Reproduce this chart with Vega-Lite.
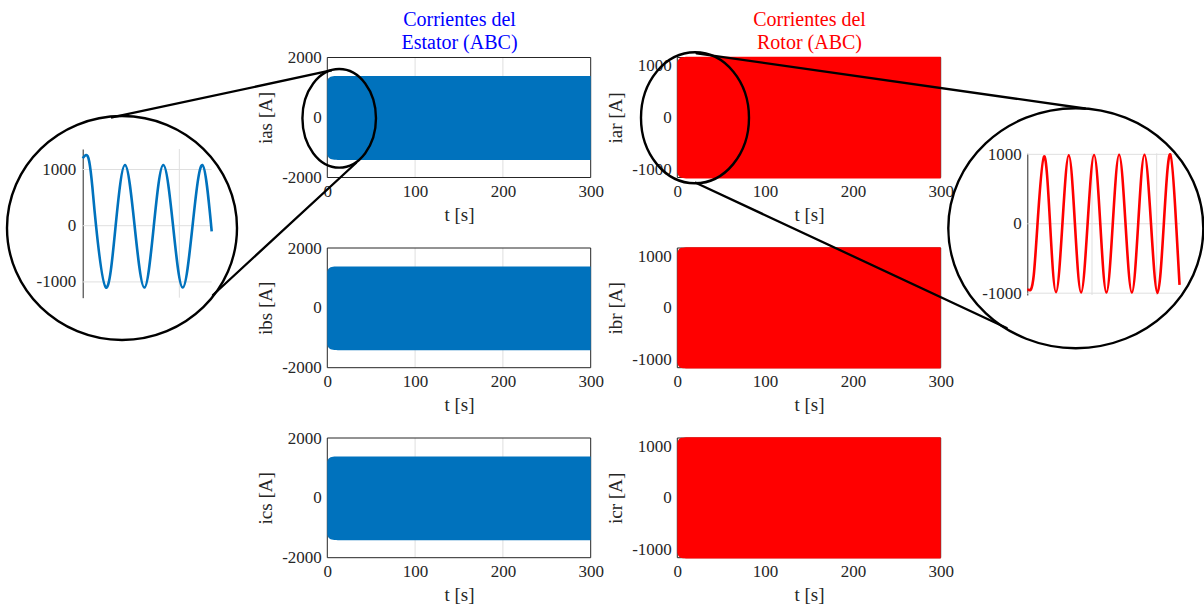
{
  "$schema": "https://vega.github.io/schema/vega-lite/v6.json",
  "width": 1204,
  "height": 610,
  "autosize": "none",
  "padding": 0,
  "background": "white",
  "config": {
    "view": {"stroke": null},
    "axis": {
      "labelFont": "Liberation Serif",
      "titleFont": "Liberation Serif",
      "labelFontSize": 17,
      "titleFontSize": 19,
      "labelColor": "#262626",
      "titleColor": "#262626",
      "titleFontWeight": "normal",
      "ticks": false,
      "domain": false,
      "grid": false,
      "labelFlush": false,
      "labelOverlap": false,
      "labelPadding": 6,
      "titlePadding": 6
    }
  },
  "datasets": {
    "stator": [
      {"t": 0, "lo": -1235, "hi": 1215},
      {"t": 1, "lo": -1310, "hi": 1290},
      {"t": 2.5, "lo": -1360, "hi": 1335},
      {"t": 5, "lo": -1395, "hi": 1365},
      {"t": 8, "lo": -1410, "hi": 1380},
      {"t": 12, "lo": -1415, "hi": 1385},
      {"t": 300, "lo": -1415, "hi": 1385}
    ],
    "rotor": [
      {"t": 0, "lo": -1070, "hi": 1065},
      {"t": 1, "lo": -1120, "hi": 1115},
      {"t": 2.5, "lo": -1150, "hi": 1148},
      {"t": 5, "lo": -1170, "hi": 1168},
      {"t": 8, "lo": -1178, "hi": 1176},
      {"t": 12, "lo": -1182, "hi": 1180},
      {"t": 300, "lo": -1182, "hi": 1180}
    ],
    "zoomS": [
      {"u": 0, "i": 1200},
      {"u": 0.035, "i": 1258},
      {"u": 0.068, "i": 1140},
      {"u": 0.1, "i": 690},
      {"u": 0.138, "i": 0},
      {"u": 0.241, "i": -1100},
      {"u": 0.341, "i": 0},
      {"u": 0.438, "i": 1080},
      {"u": 0.537, "i": 0},
      {"u": 0.638, "i": -1100},
      {"u": 0.736, "i": 0},
      {"u": 0.834, "i": 1080},
      {"u": 0.935, "i": 0},
      {"u": 1.035, "i": -1100},
      {"u": 1.137, "i": 0},
      {"u": 1.238, "i": 1080},
      {"u": 1.335, "i": -100}
    ],
    "zoomR": [
      {"u": 0, "i": -955},
      {"u": 0.03, "i": -952},
      {"u": 0.057, "i": -945},
      {"u": 0.1, "i": -740},
      {"u": 0.158, "i": 0},
      {"u": 0.259, "i": 970},
      {"u": 0.352, "i": 0},
      {"u": 0.444, "i": -985},
      {"u": 0.543, "i": 0},
      {"u": 0.641, "i": 985},
      {"u": 0.736, "i": 0},
      {"u": 0.831, "i": -990},
      {"u": 0.932, "i": 0},
      {"u": 1.032, "i": 990},
      {"u": 1.128, "i": 0},
      {"u": 1.223, "i": -990},
      {"u": 1.321, "i": 0},
      {"u": 1.419, "i": 995},
      {"u": 1.518, "i": 0},
      {"u": 1.616, "i": -990},
      {"u": 1.714, "i": 0},
      {"u": 1.811, "i": 995},
      {"u": 1.912, "i": 0},
      {"u": 2.012, "i": -995},
      {"u": 2.11, "i": 0},
      {"u": 2.209, "i": 1000},
      {"u": 2.3, "i": 0},
      {"u": 2.353, "i": -880}
    ],
    "links": [
      {"x1": 0.09302, "y1": 0.80738, "x2": 0.27492, "y2": 0.88443},
      {"x1": 0.17691, "y1": 0.51639, "x2": 0.29568, "y2": 0.73279},
      {"x1": 0.57865, "y1": 0.91262, "x2": 0.90116, "y2": 0.82213},
      {"x1": 0.57782, "y1": 0.70049, "x2": 0.83613, "y2": 0.46230}
    ]
  },
  "resolve": {"scale": {"x": "independent", "y": "independent"}},
  "layer": [
    {
      "resolve": {"axis": {"x": "independent", "y": "independent"}},
      "layer": [
        {
          "data": {"values": [{"t": 100}, {"t": 200}]},
          "mark": {"type": "rule", "color": "#dfdfdf", "strokeWidth": 1},
          "encoding": {
            "x": {"field": "t", "type": "quantitative", "axis": {"orient": "top", "offset": -57.5, "labels": false, "title": ["Corrientes del", "Estator (ABC)"], "titleColor": "#0000FF", "titleFontSize": 20, "titleLineHeight": 23, "titlePadding": 5}},
            "y": {"datum": -2000, "type": "quantitative", "axis": null},
            "y2": {"datum": 2000}
          }
        },
        {
          "data": {"values": [{}]},
          "mark": {"type": "rect", "fill": "transparent", "stroke": "#262626", "strokeWidth": 1},
          "encoding": {
            "x": {"datum": 0, "type": "quantitative", "axis": null},
            "x2": {"datum": 300},
            "y": {"datum": -2000, "type": "quantitative", "axis": null},
            "y2": {"datum": 2000}
          }
        },
        {
          "data": {"name": "stator"},
          "mark": {"type": "area", "color": "#0072BD", "interpolate": "monotone"},
          "encoding": {
            "x": {"field": "t", "type": "quantitative", "scale": {"domain": [0, 300], "range": [327.3, 590.7], "nice": false, "zero": false}, "axis": {"orient": "bottom", "offset": -432.5, "values": [0, 100, 200, 300], "title": "t [s]"}},
            "y": {"field": "lo", "type": "quantitative", "scale": {"domain": [-2000, 2000], "range": [177.5, 57.5], "nice": false, "zero": false}, "axis": {"orient": "left", "offset": -327.3, "values": [-2000, 0, 2000], "labelExpr": "'' + datum.value", "title": "ias [A]"}},
            "y2": {"field": "hi"}
          }
        }
      ]
    },
    {
      "resolve": {"axis": {"x": "independent", "y": "independent"}},
      "layer": [
        {
          "data": {"values": [{"t": 100}, {"t": 200}]},
          "mark": {"type": "rule", "color": "#dfdfdf", "strokeWidth": 1},
          "encoding": {
            "x": {"field": "t", "type": "quantitative", "axis": null},
            "y": {"datum": -2000, "type": "quantitative", "axis": null},
            "y2": {"datum": 2000}
          }
        },
        {
          "data": {"values": [{}]},
          "mark": {"type": "rect", "fill": "transparent", "stroke": "#262626", "strokeWidth": 1},
          "encoding": {
            "x": {"datum": 0, "type": "quantitative", "axis": null},
            "x2": {"datum": 300},
            "y": {"datum": -2000, "type": "quantitative", "axis": null},
            "y2": {"datum": 2000}
          }
        },
        {
          "data": {"name": "stator"},
          "mark": {"type": "area", "color": "#0072BD", "interpolate": "monotone"},
          "encoding": {
            "x": {"field": "t", "type": "quantitative", "scale": {"domain": [0, 300], "range": [327.3, 590.7], "nice": false, "zero": false}, "axis": {"orient": "bottom", "offset": -242.3, "values": [0, 100, 200, 300], "title": "t [s]"}},
            "y": {"field": "lo", "type": "quantitative", "scale": {"domain": [-2000, 2000], "range": [367.7, 248], "nice": false, "zero": false}, "axis": {"orient": "left", "offset": -327.3, "values": [-2000, 0, 2000], "labelExpr": "'' + datum.value", "title": "ibs [A]"}},
            "y2": {"field": "hi"}
          }
        }
      ]
    },
    {
      "resolve": {"axis": {"x": "independent", "y": "independent"}},
      "layer": [
        {
          "data": {"values": [{"t": 100}, {"t": 200}]},
          "mark": {"type": "rule", "color": "#dfdfdf", "strokeWidth": 1},
          "encoding": {
            "x": {"field": "t", "type": "quantitative", "axis": null},
            "y": {"datum": -2000, "type": "quantitative", "axis": null},
            "y2": {"datum": 2000}
          }
        },
        {
          "data": {"values": [{}]},
          "mark": {"type": "rect", "fill": "transparent", "stroke": "#262626", "strokeWidth": 1},
          "encoding": {
            "x": {"datum": 0, "type": "quantitative", "axis": null},
            "x2": {"datum": 300},
            "y": {"datum": -2000, "type": "quantitative", "axis": null},
            "y2": {"datum": 2000}
          }
        },
        {
          "data": {"name": "stator"},
          "mark": {"type": "area", "color": "#0072BD", "interpolate": "monotone"},
          "encoding": {
            "x": {"field": "t", "type": "quantitative", "scale": {"domain": [0, 300], "range": [327.3, 590.7], "nice": false, "zero": false}, "axis": {"orient": "bottom", "offset": -52.3, "values": [0, 100, 200, 300], "title": "t [s]"}},
            "y": {"field": "lo", "type": "quantitative", "scale": {"domain": [-2000, 2000], "range": [557.7, 438], "nice": false, "zero": false}, "axis": {"orient": "left", "offset": -327.3, "values": [-2000, 0, 2000], "labelExpr": "'' + datum.value", "title": "ics [A]"}},
            "y2": {"field": "hi"}
          }
        }
      ]
    },
    {
      "resolve": {"axis": {"x": "independent", "y": "independent"}},
      "layer": [
        {
          "data": {"values": [{"t": 100}, {"t": 200}]},
          "mark": {"type": "rule", "color": "#dfdfdf", "strokeWidth": 1},
          "encoding": {
            "x": {"field": "t", "type": "quantitative", "axis": {"orient": "top", "offset": -57.5, "labels": false, "title": ["Corrientes del", "Rotor (ABC)"], "titleColor": "#FF0000", "titleFontSize": 20, "titleLineHeight": 23, "titlePadding": 5}},
            "y": {"datum": -1165, "type": "quantitative", "axis": null},
            "y2": {"datum": 1165}
          }
        },
        {
          "data": {"values": [{}]},
          "mark": {"type": "rect", "fill": "transparent", "stroke": "#262626", "strokeWidth": 1},
          "encoding": {
            "x": {"datum": 0, "type": "quantitative", "axis": null},
            "x2": {"datum": 300},
            "y": {"datum": -1165, "type": "quantitative", "axis": null},
            "y2": {"datum": 1165}
          }
        },
        {
          "data": {"name": "rotor"},
          "mark": {"type": "area", "color": "#FF0000", "interpolate": "monotone"},
          "encoding": {
            "x": {"field": "t", "type": "quantitative", "scale": {"domain": [0, 300], "range": [677.3, 940.7], "nice": false, "zero": false}, "axis": {"orient": "bottom", "offset": -432.5, "values": [0, 100, 200, 300], "title": "t [s]"}},
            "y": {"field": "lo", "type": "quantitative", "scale": {"domain": [-1165, 1165], "range": [177.5, 57.5], "nice": false, "zero": false}, "axis": {"orient": "left", "offset": -677.3, "values": [-1000, 0, 1000], "labelExpr": "'' + datum.value", "title": "iar [A]"}},
            "y2": {"field": "hi"}
          }
        }
      ]
    },
    {
      "resolve": {"axis": {"x": "independent", "y": "independent"}},
      "layer": [
        {
          "data": {"values": [{}]},
          "mark": {"type": "rect", "fill": "transparent", "stroke": "#262626", "strokeWidth": 1},
          "encoding": {
            "x": {"datum": 0, "type": "quantitative", "axis": null},
            "x2": {"datum": 300},
            "y": {"datum": -1165, "type": "quantitative", "axis": null},
            "y2": {"datum": 1165}
          }
        },
        {
          "data": {"name": "rotor"},
          "mark": {"type": "area", "color": "#FF0000", "interpolate": "monotone"},
          "encoding": {
            "x": {"field": "t", "type": "quantitative", "scale": {"domain": [0, 300], "range": [677.3, 940.7], "nice": false, "zero": false}, "axis": {"orient": "bottom", "offset": -242.3, "values": [0, 100, 200, 300], "title": "t [s]"}},
            "y": {"field": "lo", "type": "quantitative", "scale": {"domain": [-1165, 1165], "range": [367.7, 248], "nice": false, "zero": false}, "axis": {"orient": "left", "offset": -677.3, "values": [-1000, 0, 1000], "labelExpr": "'' + datum.value", "title": "ibr [A]"}},
            "y2": {"field": "hi"}
          }
        }
      ]
    },
    {
      "resolve": {"axis": {"x": "independent", "y": "independent"}},
      "layer": [
        {
          "data": {"values": [{}]},
          "mark": {"type": "rect", "fill": "transparent", "stroke": "#262626", "strokeWidth": 1},
          "encoding": {
            "x": {"datum": 0, "type": "quantitative", "axis": null},
            "x2": {"datum": 300},
            "y": {"datum": -1165, "type": "quantitative", "axis": null},
            "y2": {"datum": 1165}
          }
        },
        {
          "data": {"name": "rotor"},
          "mark": {"type": "area", "color": "#FF0000", "interpolate": "monotone"},
          "encoding": {
            "x": {"field": "t", "type": "quantitative", "scale": {"domain": [0, 300], "range": [677.3, 940.7], "nice": false, "zero": false}, "axis": {"orient": "bottom", "offset": -52.3, "values": [0, 100, 200, 300], "title": "t [s]"}},
            "y": {"field": "lo", "type": "quantitative", "scale": {"domain": [-1165, 1165], "range": [557.7, 438], "nice": false, "zero": false}, "axis": {"orient": "left", "offset": -677.3, "values": [-1000, 0, 1000], "labelExpr": "'' + datum.value", "title": "icr [A]"}},
            "y2": {"field": "hi"}
          }
        }
      ]
    },
    {
      "resolve": {"axis": {"x": "independent", "y": "independent"}},
      "layer": [
        {
          "data": {"values": [{"v": -1000}, {"v": 0}, {"v": 1000}]},
          "mark": {"type": "rule", "color": "#dfdfdf", "strokeWidth": 1},
          "encoding": {
            "y": {"field": "v", "type": "quantitative", "axis": null},
            "x": {"datum": 0, "type": "quantitative", "axis": null},
            "x2": {"datum": 1.335}
          }
        },
        {
          "data": {"values": [{"u": 1}]},
          "mark": {"type": "rule", "color": "#dfdfdf", "strokeWidth": 1},
          "encoding": {
            "x": {"field": "u", "type": "quantitative", "axis": null},
            "y": {"datum": -1281, "type": "quantitative", "axis": null},
            "y2": {"datum": 1365}
          }
        },
        {
          "data": {"name": "zoomS"},
          "mark": {"type": "line", "color": "#0072BD", "strokeWidth": 2.6, "interpolate": "natural"},
          "encoding": {
            "x": {"field": "u", "type": "quantitative", "scale": {"domain": [0, 1.335], "range": [82.7, 211.7], "nice": false, "zero": false}, "axis": null},
            "y": {"field": "i", "type": "quantitative", "scale": {"domain": [-1281, 1365], "range": [297.7, 149], "nice": false, "zero": false}, "axis": {"orient": "left", "offset": -82.7, "domain": true, "domainColor": "#262626", "domainWidth": 1, "values": [-1000, 0, 1000], "labelExpr": "'' + datum.value", "title": null, "labelPadding": 7}}
          }
        }
      ]
    },
    {
      "resolve": {"axis": {"x": "independent", "y": "independent"}},
      "layer": [
        {
          "data": {"values": [{"v": -1000}, {"v": 0}, {"v": 1000}]},
          "mark": {"type": "rule", "color": "#dfdfdf", "strokeWidth": 1},
          "encoding": {
            "y": {"field": "v", "type": "quantitative", "axis": null},
            "x": {"datum": 0, "type": "quantitative", "axis": null},
            "x2": {"datum": 2.36}
          }
        },
        {
          "data": {"values": [{"u": 1}, {"u": 2}]},
          "mark": {"type": "rule", "color": "#dfdfdf", "strokeWidth": 1},
          "encoding": {
            "x": {"field": "u", "type": "quantitative", "axis": null},
            "y": {"datum": -1026, "type": "quantitative", "axis": null},
            "y2": {"datum": 1015}
          }
        },
        {
          "data": {"name": "zoomR"},
          "mark": {"type": "line", "color": "#FF0000", "strokeWidth": 2.6, "interpolate": "natural"},
          "encoding": {
            "x": {"field": "u", "type": "quantitative", "scale": {"domain": [0, 2.36], "range": [1027.3, 1180], "nice": false, "zero": false}, "axis": null},
            "y": {"field": "i", "type": "quantitative", "scale": {"domain": [-1026, 1015], "range": [295, 153.3], "nice": false, "zero": false}, "axis": {"orient": "left", "offset": -1027.3, "domain": true, "domainColor": "#262626", "domainWidth": 1, "values": [-1000, 0, 1000], "labelExpr": "'' + datum.value", "title": null, "labelPadding": 6}}
          }
        }
      ]
    },
    {
      "layer": [
        {
          "data": {"name": "links"},
          "mark": {"type": "rule", "color": "black", "strokeWidth": 2.3, "strokeCap": "round"},
          "encoding": {
            "x": {"field": "x1", "type": "quantitative", "scale": {"domain": [0, 1], "range": [0, 1204], "nice": false, "zero": false}, "axis": null},
            "y": {"field": "y1", "type": "quantitative", "scale": {"domain": [0, 1], "range": [610, 0], "nice": false, "zero": false}, "axis": null},
            "x2": {"field": "x2"},
            "y2": {"field": "y2"}
          }
        },
        {
          "data": {"values": [{}]},
          "mark": {"type": "point", "filled": false, "color": "black", "opacity": 1, "strokeWidth": 2.4, "size": 9722,
                   "shape": "M0.746,0C0.746,0.5523,0.412,1,0,1C-0.412,1,-0.746,0.5523,-0.746,0C-0.746,-0.5523,-0.412,-1,0,-1C0.412,-1,0.746,-0.5523,0.746,0Z"},
          "encoding": {
            "x": {"datum": 0.28173, "type": "quantitative", "axis": null},
            "y": {"datum": 0.80607, "type": "quantitative", "axis": null}
          }
        },
        {
          "data": {"values": [{}]},
          "mark": {"type": "point", "filled": false, "color": "black", "opacity": 1, "strokeWidth": 2.4, "size": 17161,
                   "shape": "M0.8244,0C0.8244,0.5523,0.4553,1,0,1C-0.4553,1,-0.8244,0.5523,-0.8244,0C-0.8244,-0.5523,-0.4553,-1,0,-1C0.4553,-1,0.8244,-0.5523,0.8244,0Z"},
          "encoding": {
            "x": {"datum": 0.57724, "type": "quantitative", "axis": null},
            "y": {"datum": 0.80689, "type": "quantitative", "axis": null}
          }
        },
        {
          "data": {"values": [{}]},
          "mark": {"type": "point", "filled": false, "color": "black", "opacity": 1, "strokeWidth": 2.4, "size": 52900,
                   "shape": "M1,0C1,0.5379,0.5523,0.974,0,0.974C-0.5523,0.974,-1,0.5379,-1,0C-1,-0.5379,-0.5523,-0.974,0,-0.974C0.5523,-0.974,1,-0.5379,1,0Z"},
          "encoding": {
            "x": {"datum": 0.10133, "type": "quantitative", "axis": null},
            "y": {"datum": 0.62623, "type": "quantitative", "axis": null}
          }
        },
        {
          "data": {"values": [{}]},
          "mark": {"type": "point", "filled": false, "color": "black", "opacity": 1, "strokeWidth": 2.4, "size": 65025,
                   "shape": "M1,0C1,0.5197,0.5523,0.941,0,0.941C-0.5523,0.941,-1,0.5197,-1,0C-1,-0.5197,-0.5523,-0.941,0,-0.941C0.5523,-0.941,1,-0.5197,1,0Z"},
          "encoding": {
            "x": {"datum": 0.89352, "type": "quantitative", "axis": null},
            "y": {"datum": 0.6259, "type": "quantitative", "axis": null}
          }
        }
      ]
    }
  ]
}
